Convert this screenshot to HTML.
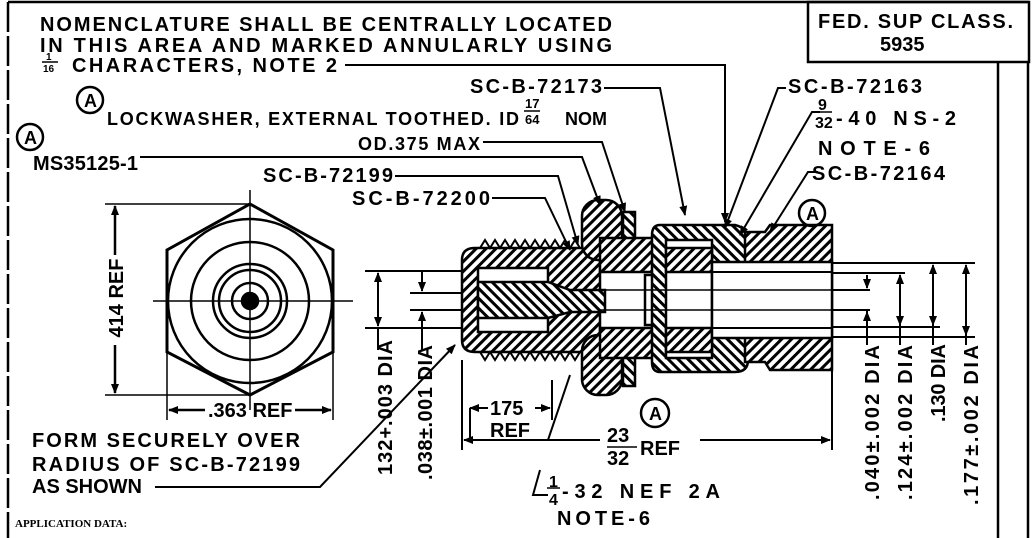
<!DOCTYPE html>
<html><head><meta charset="utf-8"><style>
html,body{margin:0;padding:0;background:#fff}
svg{display:block}
text{font-family:"Liberation Sans",sans-serif;fill:#000}
.t{font-size:20px;font-weight:bold}
.b{font-size:18px;font-weight:bold}
</style></head><body>
<svg width="1033" height="538" viewBox="0 0 1033 538" xmlns="http://www.w3.org/2000/svg">
<defs>
<pattern id="h" width="7" height="7" patternUnits="userSpaceOnUse" patternTransform="rotate(45)">
<rect width="7" height="7" fill="#fff"/><rect width="3" height="7" fill="#000"/></pattern>
<pattern id="h2" width="7" height="7" patternUnits="userSpaceOnUse" patternTransform="rotate(-45)">
<rect width="7" height="7" fill="#fff"/><rect width="3" height="7" fill="#000"/></pattern>
<marker id="a" markerWidth="10" markerHeight="8" refX="9" refY="4" orient="auto-start-reverse" markerUnits="userSpaceOnUse"><path d="M0,0 L10,4 L0,8z"/></marker>
</defs>
<g stroke="#000" fill="none" stroke-width="2.5">
<line x1="8" y1="2" x2="1029" y2="2"/>
<line x1="8" y1="2" x2="8" y2="538" stroke-dasharray="30,4"/>
<rect x="808" y="2" width="221" height="60"/>
<line x1="998" y1="62" x2="998" y2="538"/>
<line x1="1028" y1="62" x2="1028" y2="538"/>
<polygon points="250,204 333,250 333,352 250,395 167,352 167,250" stroke-width="3"/>
<circle cx="250" cy="301" r="82"/>
<circle cx="250" cy="301" r="59"/>
<circle cx="250" cy="301" r="37"/>
<circle cx="250" cy="301" r="31"/>
<circle cx="250" cy="301" r="18"/>
<circle cx="250" cy="301" r="8" fill="#000"/>
<g stroke-width="1.5"><line x1="153" y1="301" x2="353" y2="301"/><line x1="250" y1="190" x2="250" y2="410"/>
<line x1="105" y1="204" x2="250" y2="204"/><line x1="105" y1="395" x2="250" y2="395"/>
<line x1="167" y1="352" x2="167" y2="420"/><line x1="333" y1="352" x2="333" y2="420"/></g>
<line x1="115" y1="206" x2="115" y2="255" marker-start="url(#a)"/><line x1="115" y1="345" x2="115" y2="393" marker-end="url(#a)"/>
<line x1="169" y1="410" x2="205" y2="410" marker-start="url(#a)"/><line x1="295" y1="410" x2="331" y2="410" marker-end="url(#a)"/>
<g stroke-width="2">
<line x1="365" y1="271" x2="470" y2="271"/><line x1="365" y1="328" x2="470" y2="328"/>
<line x1="410" y1="293" x2="480" y2="293"/><line x1="410" y1="310" x2="480" y2="310"/>
<line x1="830" y1="263" x2="975" y2="263"/><line x1="830" y1="273" x2="905" y2="273"/>
<line x1="830" y1="290" x2="870" y2="290"/><line x1="830" y1="310" x2="870" y2="310"/>
<line x1="830" y1="327" x2="940" y2="327"/><line x1="830" y1="337" x2="975" y2="337"/>
</g>
<g stroke-width="2">
<line x1="378" y1="273" x2="378" y2="326" marker-start="url(#a)" marker-end="url(#a)"/>
<line x1="378" y1="328" x2="378" y2="350"/>
<line x1="422" y1="270" x2="422" y2="291" marker-end="url(#a)"/><line x1="422" y1="330" x2="422" y2="312" marker-end="url(#a)"/><line x1="422" y1="330" x2="422" y2="350"/>
<line x1="867" y1="275" x2="867" y2="288" marker-end="url(#a)"/><line x1="867" y1="325" x2="867" y2="312" marker-end="url(#a)"/><line x1="867" y1="310" x2="867" y2="345"/>
<line x1="900" y1="275" x2="900" y2="325" marker-start="url(#a)" marker-end="url(#a)"/><line x1="900" y1="325" x2="900" y2="345"/>
<line x1="933" y1="265" x2="933" y2="325" marker-start="url(#a)" marker-end="url(#a)"/><line x1="933" y1="325" x2="933" y2="345"/>
<line x1="966" y1="265" x2="966" y2="335" marker-start="url(#a)" marker-end="url(#a)"/><line x1="966" y1="335" x2="966" y2="345"/>
</g>
<path d="M475,248 L600,248 L600,352 L475,352 Q462,352 462,340 L462,260 Q462,248 475,248z" fill="url(#h)"/>
<rect x="478" y="268" width="70" height="64" fill="#fff"/>
<path d="M478,282 L548,282 L570,290 L605,290 L605,312 L570,312 L548,318 L478,318z" fill="url(#h2)"/>
<path d="M480,248 l5,-8 l5,8 l5,-8 l5,8 l5,-8 l5,8 l5,-8 l5,8 l5,-8 l5,8 l5,-8 l5,8 l5,-8 l5,8 l5,-8 l5,8 l5,-8 l5,8 l5,-8 l5,8" stroke-width="2"/>
<path d="M480,352 l5,8 l5,-8 l5,8 l5,-8 l5,8 l5,-8 l5,8 l5,-8 l5,8 l5,-8 l5,8 l5,-8 l5,8 l5,-8 l5,8 l5,-8 l5,8 l5,-8 l5,8 l5,-8" stroke-width="2"/>
<rect x="582" y="200" width="40" height="60" rx="16" fill="url(#h)"/>
<rect x="582" y="335" width="40" height="60" rx="16" fill="url(#h)"/>
<rect x="623" y="212" width="12" height="34" fill="url(#h2)"/>
<rect x="623" y="352" width="12" height="34" fill="url(#h2)"/>
<rect x="600" y="238" width="55" height="34" fill="url(#h)"/>
<rect x="600" y="328" width="55" height="30" fill="url(#h)"/>
<rect x="645" y="275" width="22" height="50"/>
<path d="M660,225 L735,225 Q748,228 748,240 L748,360 Q748,372 735,372 L660,372 Q652,372 652,362 L652,235 Q652,225 660,225z" fill="url(#h2)"/>
<rect x="666" y="240" width="46" height="118" fill="#fff"/>
<path d="M666,248 L712,248 L712,272 L666,272z M666,328 L712,328 L712,352 L666,352z" fill="url(#h)"/>
<path d="M745,232 L765,232 L770,225 L832,225 L832,370 L770,370 L765,362 L745,362z" fill="url(#h)"/>
<rect x="712" y="262" width="120" height="76" fill="#fff"/>
<line x1="666" y1="272" x2="832" y2="272" stroke-width="2"/>
<line x1="666" y1="328" x2="832" y2="328" stroke-width="2"/>
<line x1="600" y1="290" x2="832" y2="290" stroke-width="1.5"/>
<line x1="600" y1="310" x2="832" y2="310" stroke-width="1.5"/>
<g stroke-width="2">
<line x1="462" y1="360" x2="462" y2="450"/><line x1="832" y1="370" x2="832" y2="450"/>
<line x1="464" y1="440" x2="600" y2="440" marker-start="url(#a)"/><line x1="700" y1="440" x2="830" y2="440" marker-end="url(#a)"/>
<line x1="470" y1="408" x2="470" y2="440"/><line x1="552" y1="380" x2="552" y2="420"/>
<line x1="470" y1="408" x2="488" y2="408" marker-start="url(#a)"/><line x1="535" y1="408" x2="550" y2="408" marker-end="url(#a)"/>
<line x1="548" y1="440" x2="570" y2="375"/>
<polyline points="540,470 533,495 548,495"/>
<polyline points="155,487 320,487 455,345" marker-end="url(#a)"/>
<polyline points="345,65 725,65 725,222" marker-end="url(#a)"/>
<polyline points="604,88 660,88 685,215" marker-end="url(#a)"/>
<polyline points="140,157 582,157 600,205" marker-end="url(#a)"/>
<polyline points="483,142 602,142 625,212" marker-end="url(#a)"/>
<polyline points="395,176 558,176 578,245" marker-end="url(#a)"/>
<polyline points="492,198 545,198 570,250" marker-end="url(#a)"/>
<polyline points="786,88 778,88 725,228" marker-end="url(#a)"/>
<polyline points="820,112 812,112 740,235" marker-end="url(#a)"/>
<polyline points="818,172 808,172 770,232" marker-end="url(#a)"/>
</g>
<circle cx="90" cy="100" r="13"/><circle cx="30" cy="137" r="13"/>
<circle cx="812" cy="213" r="13"/><circle cx="655" cy="413" r="14"/>
<line x1="42" y1="62" x2="58" y2="62" stroke-width="1.5"/>
<line x1="524" y1="111" x2="540" y2="111" stroke-width="1.5"/>
<line x1="815" y1="112" x2="832" y2="112" stroke-width="1.5"/>
<line x1="607" y1="447" x2="637" y2="447" stroke-width="1.5"/>
<line x1="547" y1="488" x2="560" y2="488" stroke-width="1.5"/>
</g>
<text class="t" x="40" y="31" textLength="572">NOMENCLATURE SHALL BE CENTRALLY LOCATED</text>
<text class="t" x="40" y="52" textLength="572">IN THIS AREA AND MARKED ANNULARLY USING</text>
<text style="font-size:10px;font-weight:bold" x="46" y="60">1</text>
<text style="font-size:10px;font-weight:bold" x="43" y="72">16</text>
<text class="t" x="72" y="72" textLength="265">CHARACTERS, NOTE 2</text>
<text class="b" x="84" y="107">A</text><text class="b" x="24" y="144">A</text>
<text class="b" x="806" y="220">A</text><text class="b" x="649" y="420">A</text>
<text class="b" x="107" y="125" textLength="412">LOCKWASHER, EXTERNAL TOOTHED. ID</text>
<text style="font-size:13px;font-weight:bold" x="525" y="108">17</text>
<text style="font-size:13px;font-weight:bold" x="525" y="124">64</text>
<text class="b" x="565" y="125">NOM</text>
<text class="b" x="358" y="150" textLength="122">OD.375 MAX</text>
<text class="t" x="33" y="170" textLength="105">MS35125-1</text>
<text class="t" x="470" y="93" textLength="132">SC-B-72173</text>
<text class="t" x="263" y="182" textLength="130">SC-B-72199</text>
<text class="t" x="352" y="205" textLength="138">SC-B-72200</text>
<text class="t" x="788" y="93" textLength="134">SC-B-72163</text>
<text style="font-size:16px;font-weight:bold" x="818" y="110">9</text>
<text style="font-size:16px;font-weight:bold" x="815" y="128">32</text>
<text class="t" x="836" y="125" textLength="120">-40 NS-2</text>
<text class="t" x="818" y="155" textLength="112">NOTE-6</text>
<text class="t" x="812" y="180" textLength="133">SC-B-72164</text>
<text class="t" x="818" y="28" textLength="195">FED. SUP CLASS.</text>
<text class="t" x="880" y="51">5935</text>
<text class="t" transform="translate(123,298) rotate(-90)" text-anchor="middle">414 REF</text>
<text class="t" x="208" y="417">.363 REF</text>
<text class="t" transform="translate(392,475) rotate(-90)" textLength="135">132+.003 DIA</text>
<text class="t" transform="translate(432,480) rotate(-90)" textLength="135">.038±.001 DIA</text>
<text class="t" transform="translate(879,500) rotate(-90)" textLength="155">.040±.002 DIA</text>
<text class="t" transform="translate(912,500) rotate(-90)" textLength="155">.124±.002 DIA</text>
<text class="t" transform="translate(945,422) rotate(-90)" textLength="78">.130 DIA</text>
<text class="t" transform="translate(978,505) rotate(-90)" textLength="160">.177±.002 DIA</text>
<text class="t" x="490" y="415">175</text>
<text class="t" x="490" y="437">REF</text>
<text class="t" x="607" y="442">23</text>
<text class="t" x="607" y="465">32</text>
<text class="t" x="640" y="455">REF</text>
<text class="t" x="32" y="447" textLength="268">FORM SECURELY OVER</text>
<text class="t" x="32" y="471" textLength="268">RADIUS OF SC-B-72199</text>
<text class="t" x="32" y="493">AS SHOWN</text>
<text style="font-size:16px;font-weight:bold" x="549" y="487">1</text>
<text style="font-size:16px;font-weight:bold" x="549" y="505">4</text>
<text class="t" x="562" y="498" textLength="158">-32 NEF 2A</text>
<text class="t" x="557" y="525" textLength="93">NOTE-6</text>
<text style="font-family:'Liberation Serif',serif;font-size:11px;font-weight:bold" x="15" y="527">APPLICATION DATA:</text>
</svg>
</body></html>
